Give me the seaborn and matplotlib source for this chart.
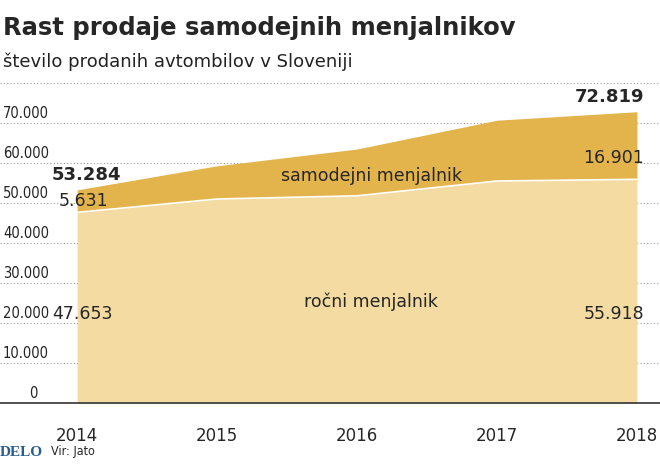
import matplotlib
matplotlib.use("Agg")
import matplotlib.pyplot as plt
import seaborn as sns
import pandas as pd

years = [2014, 2015, 2016, 2017, 2018]
rocni = [47653, 51000, 51800, 55500, 55918]
samodejni = [5631, 8300, 11700, 15200, 16901]
yticks = [0, 10000, 20000, 30000, 40000, 50000, 60000, 70000]
ytick_labels = ["0", "10.000", "20.000", "30.000", "40.000", "50.000", "60.000", "70.000"]

df = pd.DataFrame({"leto": years, "rocni": rocni, "samodejni": samodejni})
df["skupaj"] = df["rocni"] + df["samodejni"]

plt.rcParams["font.family"] = "Open Sans"
sns.set_style("white")
fig = plt.figure(figsize=(6.6, 4.72), dpi=100)
ax = fig.add_axes([0, 69/472, 1, 320/472])
C_MAN = "#F3DBA2"
C_AUT = "#E4B44C"
ax.fill_between(df["leto"], 0, df["rocni"], color=C_MAN, lw=0, zorder=2)
ax.fill_between(df["leto"], df["rocni"], df["skupaj"], color=C_AUT, lw=0, zorder=2)
sns.lineplot(x=df["leto"], y=df["rocni"], color="white", lw=1.2, ax=ax, zorder=3)

ax.set_xlim(2014 - 77/139.75, 2018 + 23/139.75)
ax.set_ylim(0, 80000)
for v in yticks[1:] + [80000]:
    ax.axhline(v, color="#999999", lw=0.8, ls=(0, (1, 2)), zorder=1)
for v, l in zip(yticks, ytick_labels):
    ax.text(2014 - 74/139.75 if v else 2014 - 48/139.75, v + 600, l, fontsize=10.5,
            fontstretch="condensed", va="bottom", ha="left", color="#222222", zorder=4)
ax.set_yticks([])
ax.set_xticks(years)
ax.set_xticklabels([str(y) for y in years], fontsize=12)
ax.tick_params(axis="x", length=5, color="#999999", pad=12)
for s in ["top", "right", "left"]:
    ax.spines[s].set_visible(False)
ax.spines["bottom"].set_color("#333333")
ax.spines["bottom"].set_linewidth(1.2)
ax.set_xlabel(""); ax.set_ylabel("")

def fmt(v):
    return f"{v:,}".replace(",", ".")

ax.text(2014 - 0.18, df["skupaj"][0] + 1500, fmt(df["skupaj"][0]), fontsize=13, fontweight="bold", va="bottom", ha="left", zorder=5)
ax.text(2014 - 0.13, df["rocni"][0] + 500, fmt(samodejni[0]), fontsize=12.5, va="bottom", ha="left", zorder=5)
ax.text(2014 - 0.18, 20000, fmt(rocni[0]), fontsize=12.5, va="bottom", ha="left", zorder=5)
ax.text(2018 + 0.05, df["skupaj"][4] + 1500, fmt(df["skupaj"][4]), fontsize=13, fontweight="bold", va="bottom", ha="right", zorder=5)
ax.text(2018 + 0.05, df["rocni"][4] + 3000, fmt(samodejni[4]), fontsize=12.5, va="bottom", ha="right", zorder=5)
ax.text(2018 + 0.05, 20000, fmt(rocni[4]), fontsize=12.5, va="bottom", ha="right", zorder=5)
ax.text(2016.1, 54500, "samodejni menjalnik", fontsize=12.5, ha="center", va="bottom", zorder=5)
ax.text(2016.1, 23000, "ročni menjalnik", fontsize=12.5, ha="center", va="bottom", zorder=5)

fig.text(0.005, 1 - 28/472, "Rast prodaje samodejnih menjalnikov", fontsize=17.5, fontweight="bold", va="center", ha="left")
fig.text(0.005, 1 - 62/472, "število prodanih avtombilov v Sloveniji", fontsize=13, va="center", ha="left", color="#222222")
fig.text(0.0, 1 - 452/472, "DELO", fontsize=11, fontweight="bold", family="Liberation Serif", color="#2a5d8f", va="center", ha="left")
fig.text(0.078, 1 - 452/472, "Vir: Jato", fontsize=9, fontstretch="condensed", va="center", ha="left")
fig.savefig("out.png", dpi=100)
